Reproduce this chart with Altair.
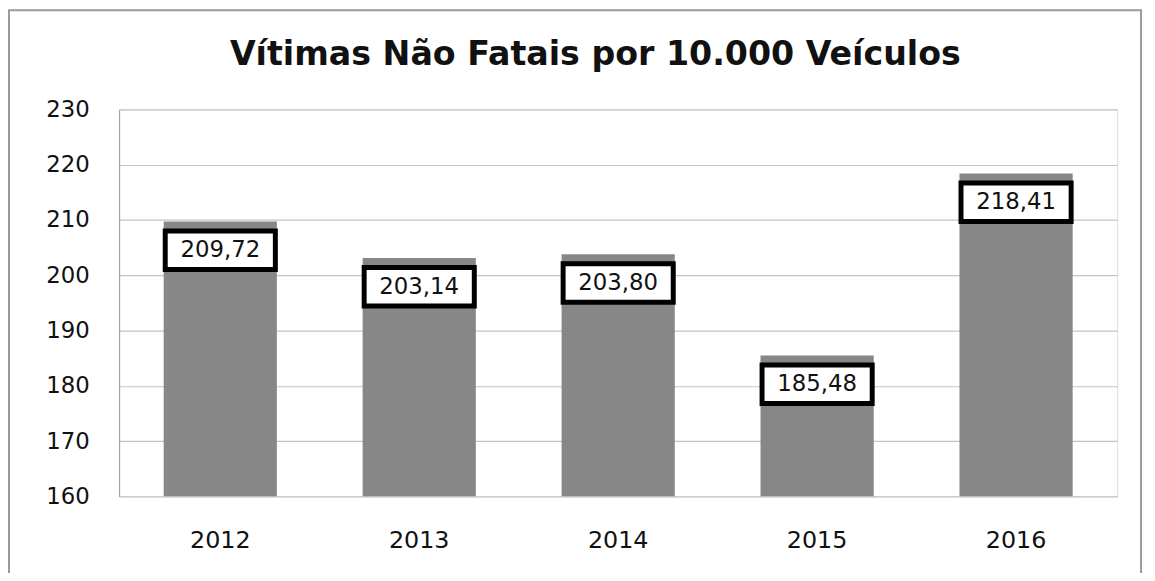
import altair as alt
import pandas as pd

years = ["2012", "2013", "2014", "2015", "2016"]
values = [209.72, 203.14, 203.80, 185.48, 218.41]
labels = ["209,72", "203,14", "203,80", "185,48", "218,41"]
title_text = "Vítimas Não Fatais por 10.000 Veículos"

df = pd.DataFrame({"ano": years, "valor": values, "rotulo": labels})

FONT = "DejaVu Sans"
TFONT = "DejaVu Sans"

x = alt.X("ano:N", sort=years, title=None,
          scale=alt.Scale(paddingInner=0.431, paddingOuter=0.224),
          axis=alt.Axis(labelAngle=0, labelFontSize=24, labelFont=FONT, labelColor="#111",
                        labelPadding=33, ticks=False, domain=False, grid=False))
y = alt.Y("valor:Q", title=None,
          scale=alt.Scale(domain=[160, 230], nice=False, zero=False),
          axis=alt.Axis(values=[160, 170, 180, 190, 200, 210, 220, 230],
                        labelFontSize=23, labelFont=FONT, labelColor="#111",
                        labelPadding=30, ticks=False, domain=True, domainColor="#999",
                        gridColor="#c4c4c4", gridWidth=1.2))

base = alt.Chart(df)

bars = base.mark_bar(color="#878787", clip=True).encode(x=x, y=y)

box = base.mark_point(
    shape="M-1,-0.35L1,-0.35L1,0.35L-1,0.35Z",
    size=111 * 111, filled=False, fill="white", fillOpacity=1,
    stroke="black", strokeWidth=5, opacity=1, yOffset=29
).encode(x=x, y=y)

txt = base.mark_text(fontSize=23, font=FONT, color="#111", yOffset=29,
                     baseline="middle").encode(x=x, y=y, text="rotulo:N")

one = alt.Data(values=[{}])

frame = alt.Chart(one).mark_rect(
    fill=None, stroke="#9a9a9a", strokeWidth=2
).encode(x=alt.value(-111), x2=alt.value(1030), y=alt.value(-100), y2=alt.value(480))

title = alt.Chart(one).mark_text(
    text=title_text, font=TFONT, fontSize=33.5, fontWeight="bold", color="#111",
    align="center", baseline="alphabetic"
).encode(x=alt.value(480), y=alt.value(-45))

chart = alt.layer(bars, box, txt, frame, title).properties(
    width=1006, height=390,
    autosize=alt.AutoSizeParams(type="none"),
    padding={"left": 112, "top": 100, "right": 30, "bottom": 75},
).configure_view(stroke=None).configure(background="white")

chart.save("out.html", embed_options={"renderer": "svg", "actions": False})
